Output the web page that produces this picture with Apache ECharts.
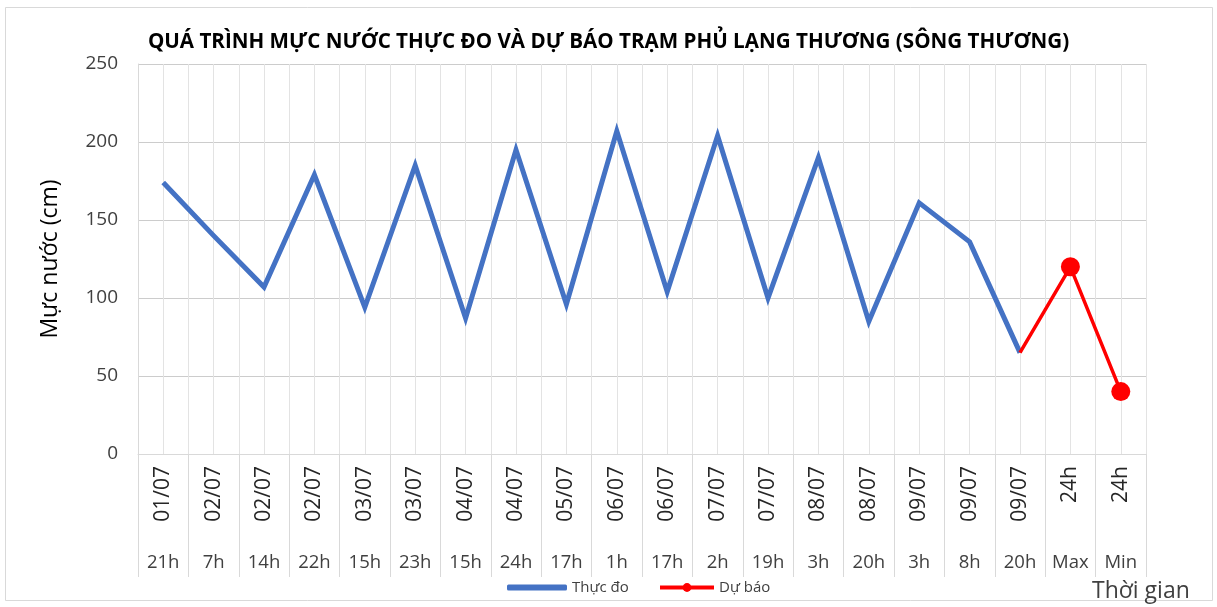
<!DOCTYPE html>
<html>
<head>
<meta charset="utf-8">
<script src="https://cdn.jsdelivr.net/npm/echarts@6/dist/echarts.min.js"></script>
<style>
  html, body { margin: 0; padding: 0; background: #fff; }
  .wrapper { width: 1217px; height: 607px; }
</style>
</head>
<body>
<div class="wrapper"></div>
<script>
// du lieu doc tu hinh
var ngay = ['01/07','02/07','02/07','02/07','03/07','03/07','04/07','04/07','05/07','06/07',
            '06/07','07/07','07/07','08/07','08/07','09/07','09/07','09/07','24h','24h'];
var gio = ['21h','7h','14h','22h','15h','23h','15h','24h','17h','1h',
           '17h','2h','19h','3h','20h','3h','8h','20h','Max','Min'];
var thucDo = [174, 140, 107, 179, 94, 185, 87, 195, 96, 207,
              104, 204, 100, 190, 85, 161, 136, 65, null, null];
var duBao = [null, null, null, null, null, null, null, null, null, null,
             null, null, null, null, null, null, null, 65, 120, 40];
var yTicks = [0, 50, 100, 150, 200, 250];

var font = "'Open Sans', 'Noto Sans', sans-serif";
var textColor = '#404040';
var cats = ngay.map(function (d, i) { return d + ' ' + gio[i]; });

var myChart = echarts.init(document.getElementsByClassName('wrapper')[0]);

var option = {
  backgroundColor: '#fff',
  animation: false,
  title: {
    text: 'QUÁ TRÌNH MỰC NƯỚC THỰC ĐO VÀ DỰ BÁO TRẠM PHỦ LẠNG THƯƠNG (SÔNG THƯƠNG)',
    left: 'center',
    top: 27,
    textStyle: { fontFamily: font, fontSize: 20.6, fontWeight: 'bold', color: '#000' }
  },
  // hai legend rieng de icon co do day khac nhau
  legend: [
    {
      bottom: 7,
      left: 502,
      itemWidth: 60,
      itemHeight: 6,
      textStyle: { fontFamily: font, fontSize: 15, color: textColor },
      data: [{ name: 'Thực đo', icon: 'roundRect' }]
    },
    {
      bottom: 7,
      left: 653,
      itemWidth: 54,
      itemHeight: 11,
      lineStyle: { width: 4 },
      textStyle: { fontFamily: font, fontSize: 15, color: textColor },
      data: ['Dự báo']
    }
  ],
  grid: { left: 138, right: 71, top: 64, bottom: 153 },
  graphic: [
    {
      type: 'rect', silent: true, z: -1,
      shape: { x: 5.5, y: 7.5, width: 1207, height: 593 },
      style: { fill: 'none', stroke: '#d9d9d9', lineWidth: 1 }
    },
    {
      type: 'text', left: 1092, top: 580,
      style: { text: 'Thời gian', fontFamily: font, fontSize: 23, fill: textColor }
    }
  ],
  xAxis: [
    {
      type: 'category',
      data: cats,
      boundaryGap: true,
      axisLine: { show: true, lineStyle: { color: '#d9d9d9', width: 1 } },
      axisTick: { show: true, interval: 0, length: 123, lineStyle: { color: '#d9d9d9' } },
      splitLine: { show: false },
      axisLabel: {
        interval: 0, rotate: 90, margin: 12,
        fontFamily: font, fontSize: 21, color: '#262626',
        formatter: function (v, i) { return ngay[i]; }
      }
    },
    {
      type: 'category',
      data: cats,
      position: 'bottom',
      boundaryGap: true,
      axisLine: { show: false },
      axisTick: { show: false },
      splitLine: { show: false },
      axisLabel: {
        interval: 0, margin: 99,
        fontFamily: font, fontSize: 18.5, color: textColor,
        formatter: function (v, i) { return gio[i]; }
      }
    },
    {
      // luoi doc: ca bien va giua moi o
      type: 'value',
      min: 0, max: cats.length * 2, interval: 1,
      show: true,
      axisLine: { show: false }, axisTick: { show: false }, axisLabel: { show: false },
      splitLine: { show: true, lineStyle: { color: '#e3e3e3', width: 1 } }
    }
  ],
  yAxis: {
    type: 'value',
    min: yTicks[0], max: yTicks[yTicks.length - 1], interval: 50,
    name: 'Mực nước (cm)',
    nameLocation: 'middle',
    nameGap: 76,
    nameTextStyle: { fontFamily: font, fontSize: 23, color: '#000' },
    axisLine: { show: true, lineStyle: { color: '#d9d9d9' } },
    axisTick: { show: false },
    axisLabel: { margin: 20, fontFamily: font, fontSize: 19, color: textColor },
    splitLine: { show: true, lineStyle: { color: '#cccccc', width: 1 } }
  },
  series: [
    {
      name: 'Thực đo',
      type: 'line',
      xAxisIndex: 0,
      data: thucDo,
      symbol: 'none',
      color: '#4472C4',
      lineStyle: { color: '#4472C4', width: 5, join: 'miter' },
      z: 3
    },
    {
      name: 'Dự báo',
      type: 'line',
      xAxisIndex: 0,
      data: duBao.map(function (v, i) {
        return (i === 17) ? { value: v, symbol: 'none' } : v;
      }),
      symbol: 'circle',
      symbolSize: 19,
      color: '#FF0000',
      itemStyle: { color: '#FF0000' },
      lineStyle: { color: '#FF0000', width: 3.5 },
      z: 4
    }
  ]
};

myChart.setOption(option);
</script>
</body>
</html>
